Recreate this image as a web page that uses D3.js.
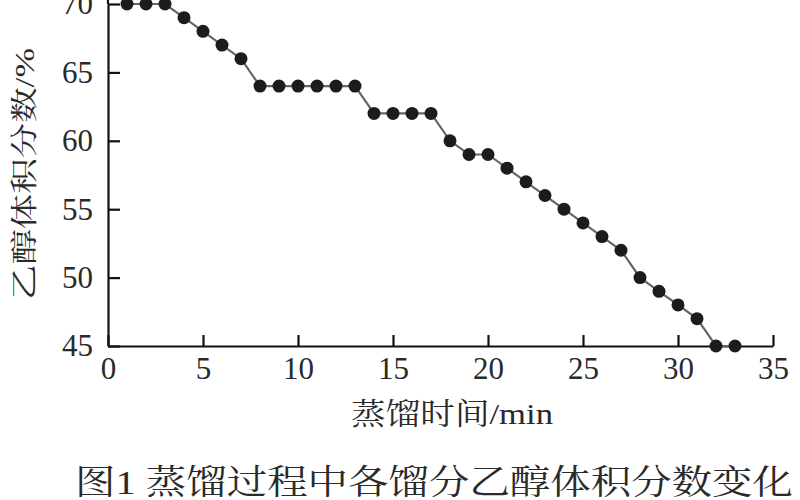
<!DOCTYPE html>
<html><head><meta charset="utf-8">
<script src="https://cdn.jsdelivr.net/npm/d3@7"></script>
<style>
html,body{margin:0;padding:0;background:#fff;overflow:hidden}
text{fill:#2a2a2a}
</style></head>
<body><svg id="c" width="800" height="500"></svg>
<script>
const times = [1,2,3,4,5,6,7,8,9,10,11,12,13,14,15,16,17,18,19,20,21,22,23,24,25,26,27,28,29,30,31,32,33];
const ethanol = [70,70,70,69,68,67,66,64,64,64,64,64,64,62,62,62,62,60,59,59,58,57,56,55,54,53,52,50,49,48,47,45,45];
const xTicks = [0,5,10,15,20,25,30,35];
const yTicks = [45,50,55,60,65,70];
const xTitle = "蒸馏时间/min";
const yTitle = "乙醇体积分数/%";
const caption = "图1  蒸馏过程中各馏分乙醇体积分数变化";

const svg = d3.select("#c");
const x = d3.scaleLinear().domain([0,35]).range([108,773]);
const y = d3.scaleLinear().domain([45,70]).range([346,4]);
const serif = "'Liberation Serif','Times New Roman','Noto Serif CJK SC','Noto Sans CJK SC',serif";

const xAxis = svg.append("g").attr("transform",`translate(0,${y(45)})`)
  .call(d3.axisBottom(x).tickValues(xTicks).tickSize(-11).tickSizeOuter(0).tickPadding(16));
const yAxis = svg.append("g").attr("transform",`translate(${x(0)},0)`)
  .call(d3.axisLeft(y).tickValues(yTicks).tickSize(-12).tickSizeOuter(0).tickPadding(15));
[xAxis,yAxis].forEach(g=>{
  g.selectAll("path,line").attr("stroke","#111").attr("stroke-width",2.2);
  g.selectAll("text").attr("font-family",serif).attr("font-size",31).attr("fill","#2a2a2a");
});
xAxis.selectAll("text").attr("dy","0.55em");
// extend y axis line to top edge
svg.append("line").attr("x1",x(0)).attr("x2",x(0)).attr("y1",y(70)).attr("y2",0)
  .attr("stroke","#111").attr("stroke-width",2.2);

const line = d3.line().x((d,i)=>x(times[i])).y(d=>y(d));
svg.append("path").datum(ethanol).attr("d",line)
  .attr("fill","none").attr("stroke","#666").attr("stroke-width",2.2);
svg.append("g").selectAll("circle").data(ethanol).join("circle")
  .attr("cx",(d,i)=>x(times[i])).attr("cy",d=>y(d)).attr("r",6.5)
  .attr("fill","#1c1c1c");

svg.append("text").attr("x",452).attr("y",424).attr("text-anchor","middle")
  .attr("font-family",serif).attr("font-size",30)
  .attr("textLength",202).attr("lengthAdjust","spacingAndGlyphs").text(xTitle);

svg.append("text").attr("transform","translate(34,174) rotate(-90)").attr("text-anchor","middle")
  .attr("font-family",serif).attr("font-size",27)
  .attr("textLength",252).attr("lengthAdjust","spacingAndGlyphs").text(yTitle);

svg.append("text").attr("x",75).attr("y",494)
  .attr("font-family",serif).attr("font-size",34)
  .attr("textLength",718).attr("lengthAdjust","spacingAndGlyphs").text(caption);
</script></body></html>
